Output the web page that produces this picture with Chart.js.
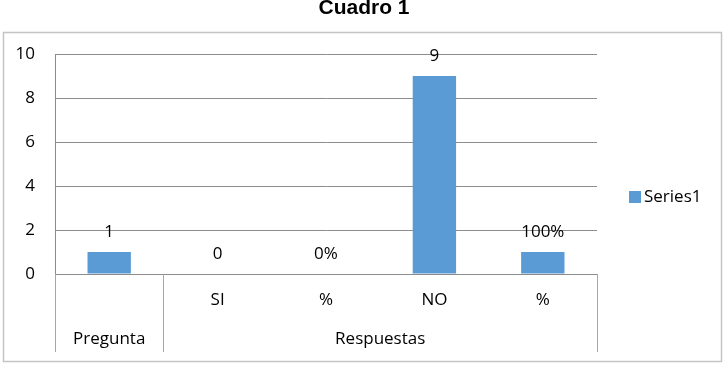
<!DOCTYPE html>
<html>
<head>
<meta charset="utf-8">
<script src="https://cdn.jsdelivr.net/npm/chart.js@4"></script>
<style>
  html, body { margin: 0; padding: 0; background: #fff; }
  #wrap { width: 728px; height: 370px; }
</style>
</head>
<body>
<div id="wrap"><canvas id="chart"></canvas></div>
<script>
const categories = ['', 'SI', '%', 'NO', '%'];
const values = [1, 0, 0, 9, 1];
const valueLabels = ['1', '0', '0%', '9', '100%'];
const groupLabels = ['Pregunta', 'Respuestas'];
const groupSizes = [1, 4];
const yTicks = [0, 2, 4, 6, 8, 10];
const seriesName = 'Series1';

const FONT = '"Open Sans", "Noto Sans", sans-serif';
const FONT_SIZE = 17;
const barColor = '#5B9BD5';
const gridColor = '#8C8C8C';

// frame round the plot, like the embedded office chart
const framePlugin = {
    id: 'frame',
    beforeDraw(chart) {
        const ctx = chart.ctx;
        ctx.save();
        ctx.strokeStyle = '#C4C4C4';
        ctx.lineWidth = 1.5;
        ctx.strokeRect(3.5, 32.5, 718, 329);
        ctx.restore();
    }
};

// value labels above bars
const valueLabelPlugin = {
    id: 'valueLabels',
    afterDatasetsDraw(chart) {
        const ctx = chart.ctx;
        const meta = chart.getDatasetMeta(0);
        ctx.save();
        ctx.font = FONT_SIZE + 'px ' + FONT;
        ctx.fillStyle = '#000';
        ctx.textAlign = 'center';
        ctx.textBaseline = 'middle';
        meta.data.forEach((bar, i) => {
            ctx.fillText(valueLabels[i], bar.x, bar.y - 20);
        });
        ctx.restore();
    }
};

// second row of category labels (groups) and the separators
const groupAxisPlugin = {
    id: 'groupAxis',
    afterDraw(chart) {
        const ctx = chart.ctx;
        const x = chart.scales.x;
        const area = chart.chartArea;
        const step = (area.right - area.left) / categories.length;
        const bottom = x.bottom;
        ctx.save();
        ctx.strokeStyle = '#A6A6A6';
        ctx.lineWidth = 1;
        ctx.font = FONT_SIZE + 'px ' + FONT;
        ctx.fillStyle = '#000';
        ctx.textAlign = 'center';
        ctx.textBaseline = 'middle';
        let start = 0;
        const edges = [area.left];
        groupSizes.forEach((n, g) => {
            const x0 = area.left + start * step;
            const x1 = area.left + (start + n) * step;
            ctx.fillText(groupLabels[g], (x0 + x1) / 2, bottom - 13);
            edges.push(x1);
            start += n;
        });
        edges.forEach(ex => {
            const px = Math.round(ex) + 0.5;
            ctx.beginPath();
            ctx.moveTo(px, area.bottom);
            ctx.lineTo(px, bottom);
            ctx.stroke();
        });
        ctx.restore();
    }
};

// legend drawn centred on the frame, at the right
const sideLegendPlugin = {
    id: 'sideLegend',
    afterDraw(chart) {
        const ctx = chart.ctx;
        const cy = 197;
        ctx.save();
        ctx.fillStyle = barColor;
        ctx.fillRect(629, cy - 6, 12, 12);
        ctx.font = FONT_SIZE + 'px ' + FONT;
        ctx.fillStyle = '#000';
        ctx.textAlign = 'left';
        ctx.textBaseline = 'middle';
        ctx.fillText(chart.data.datasets[0].label, 644, cy);
        ctx.restore();
    }
};

const ctx = document.getElementById('chart').getContext('2d');
new Chart(ctx, {
    type: 'bar',
    data: {
        labels: categories,
        datasets: [{
            label: seriesName,
            data: values,
            backgroundColor: barColor,
            borderWidth: 0,
            categoryPercentage: 1,
            barPercentage: 0.4
        }]
    },
    options: {
        responsive: true,
        maintainAspectRatio: false,
        animation: false,
        devicePixelRatio: 1,
        layout: { padding: { left: 0, right: 0, top: 0, bottom: 18 } },
        plugins: {
            legend: { display: false },
            tooltip: { enabled: false },
            title: {
                display: true,
                text: 'Cuadro 1',
                color: '#000',
                font: { family: '"Liberation Sans", Arial, sans-serif', size: 21, weight: 'bold', lineHeight: 0.8 },
                padding: { top: 0, bottom: 37.2 }
            }
        },
        scales: {
            x: {
                grid: { display: false, drawTicks: false },
                border: { display: true, color: gridColor },
                ticks: {
                    color: '#000',
                    font: { family: FONT, size: FONT_SIZE },
                    padding: 16,
                    maxRotation: 0
                },
                afterFit(scale) { scale.height = 78; }
            },
            y: {
                min: 0,
                max: 10,
                afterBuildTicks(scale) { scale.ticks = yTicks.map(v => ({ value: v })); },
                grid: { color: gridColor, drawTicks: false },
                border: { display: true, color: gridColor },
                ticks: {
                    color: '#000',
                    font: { family: FONT, size: FONT_SIZE },
                    padding: 20
                },
                afterFit(scale) { scale.width = 55; }
            },
            // empty right-hand axis: keeps room for the legend
            legendSpace: {
                type: 'linear',
                position: 'right',
                grid: { display: false, drawTicks: false },
                border: { display: false },
                ticks: { display: false },
                afterFit(scale) { scale.width = 131; }
            }
        }
    },
    plugins: [framePlugin, valueLabelPlugin, groupAxisPlugin, sideLegendPlugin]
});
</script>
</body>
</html>
